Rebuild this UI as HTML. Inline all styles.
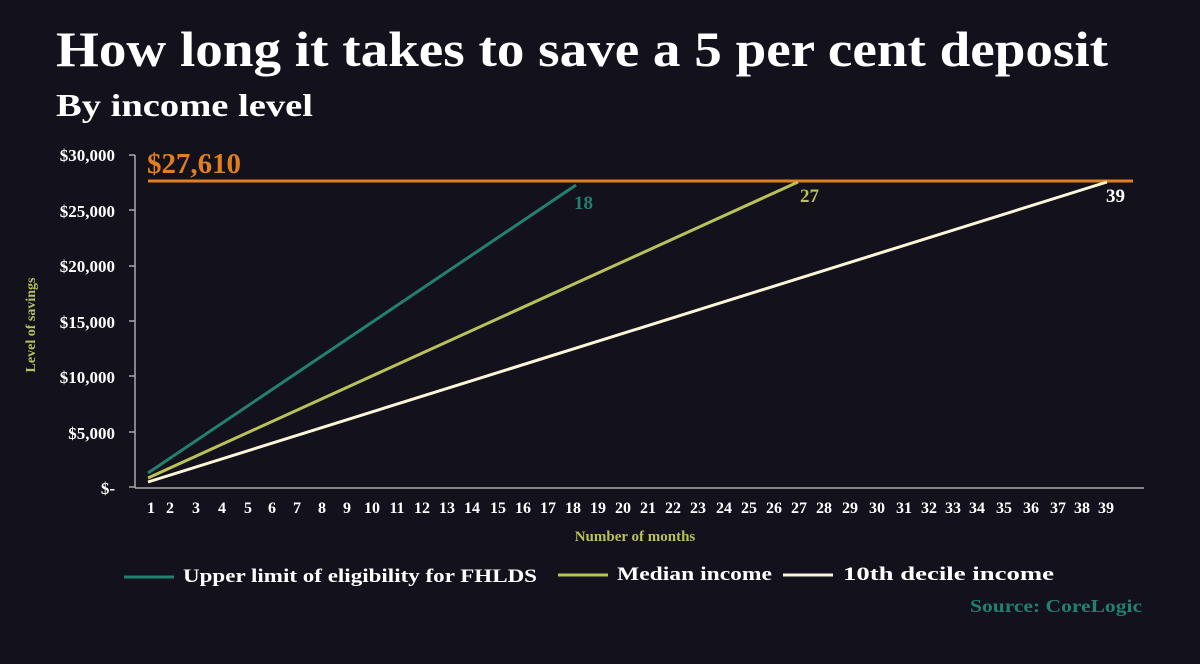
<!DOCTYPE html>
<html><head><meta charset="utf-8"><style>
html,body{margin:0;padding:0;background:#12111c;}
body{width:1200px;height:659px;overflow:hidden;font-family:"Liberation Serif",serif;}
</style></head><body>
<svg width="1200" height="659" xmlns="http://www.w3.org/2000/svg" font-family="Liberation Serif, serif" font-weight="bold">
<rect x="0" y="0" width="1200" height="659" fill="#12111c"/>
<text x="56" y="66" font-size="50" fill="#fff" textLength="1052" lengthAdjust="spacingAndGlyphs">How long it takes to save a 5 per cent deposit</text>
<text x="56" y="116" font-size="32" fill="#fff" textLength="257" lengthAdjust="spacingAndGlyphs">By income level</text>
<g font-size="17" fill="#fff" text-anchor="end">
<text x="115" y="161">$30,000</text>
<text x="115" y="217">$25,000</text>
<text x="115" y="272">$20,000</text>
<text x="115" y="328">$15,000</text>
<text x="115" y="383">$10,000</text>
<text x="115" y="439">$5,000</text>
<text x="115" y="494">$-</text>
</g>
<g stroke="#aaa" stroke-width="1.5">
<line x1="135" y1="155" x2="135" y2="488"/>
<line x1="135" y1="488" x2="1144" y2="488"/>
<line x1="129" y1="155" x2="135" y2="155"/><line x1="129" y1="210" x2="135" y2="210"/>
<line x1="129" y1="266" x2="135" y2="266"/><line x1="129" y1="321" x2="135" y2="321"/>
<line x1="129" y1="376" x2="135" y2="376"/><line x1="129" y1="432" x2="135" y2="432"/>
<line x1="129" y1="487" x2="135" y2="487"/>
</g>
<text transform="translate(35,325) rotate(-90)" font-size="14" fill="#b9c25a" text-anchor="middle">Level of savings</text>
<g font-size="16" fill="#fff" text-anchor="middle">
<text x="151" y="513">1</text><text x="170" y="513">2</text><text x="196" y="513">3</text><text x="222" y="513">4</text><text x="248" y="513">5</text><text x="272" y="513">6</text><text x="297" y="513">7</text><text x="322" y="513">8</text><text x="347" y="513">9</text><text x="372" y="513">10</text><text x="397" y="513">11</text><text x="422" y="513">12</text><text x="447" y="513">13</text><text x="472" y="513">14</text><text x="498" y="513">15</text><text x="523" y="513">16</text><text x="548" y="513">17</text><text x="573" y="513">18</text><text x="598" y="513">19</text><text x="623" y="513">20</text><text x="648" y="513">21</text><text x="673" y="513">22</text><text x="698" y="513">23</text><text x="724" y="513">24</text><text x="749" y="513">25</text><text x="774" y="513">26</text><text x="799" y="513">27</text><text x="824" y="513">28</text><text x="850" y="513">29</text><text x="877" y="513">30</text><text x="904" y="513">31</text><text x="929" y="513">32</text><text x="953" y="513">33</text><text x="977" y="513">34</text><text x="1004" y="513">35</text><text x="1031" y="513">36</text><text x="1058" y="513">37</text><text x="1082" y="513">38</text><text x="1106" y="513">39</text>
</g>
<text x="635" y="541" font-size="15" fill="#b9c25a" text-anchor="middle">Number of months</text>
<line x1="148" y1="181" x2="1133" y2="181" stroke="#e07f1f" stroke-width="3"/>
<text x="147" y="173" font-size="28" fill="#e07f1f" textLength="94" lengthAdjust="spacingAndGlyphs">$27,610</text>
<line x1="148" y1="473" x2="576" y2="185" stroke="#23806e" stroke-width="3"/>
<line x1="148" y1="478" x2="798" y2="182" stroke="#b9c25a" stroke-width="3"/>
<line x1="148" y1="482" x2="1107" y2="182" stroke="#fbf6d8" stroke-width="3"/>
<text x="574" y="209" font-size="19" fill="#23806e">18</text>
<text x="800" y="202" font-size="19" fill="#b9c25a">27</text>
<text x="1106" y="202" font-size="19" fill="#fff">39</text>
<g font-size="19">
<line x1="124" y1="577" x2="174" y2="577" stroke="#23806e" stroke-width="3"/>
<text x="183" y="582" fill="#fff" textLength="354" lengthAdjust="spacingAndGlyphs">Upper limit of eligibility for FHLDS</text>
<line x1="558" y1="575" x2="608" y2="575" stroke="#b9c25a" stroke-width="3"/>
<text x="617" y="580" fill="#fff" textLength="155" lengthAdjust="spacingAndGlyphs">Median income</text>
<line x1="783" y1="575" x2="833" y2="575" stroke="#fbf6d8" stroke-width="3"/>
<text x="843" y="580" fill="#fff" textLength="211" lengthAdjust="spacingAndGlyphs">10th decile income</text>
</g>
<text x="1142" y="612" font-size="18" fill="#23806e" text-anchor="end" textLength="172" lengthAdjust="spacingAndGlyphs">Source: CoreLogic</text>
</svg>
</body></html>
